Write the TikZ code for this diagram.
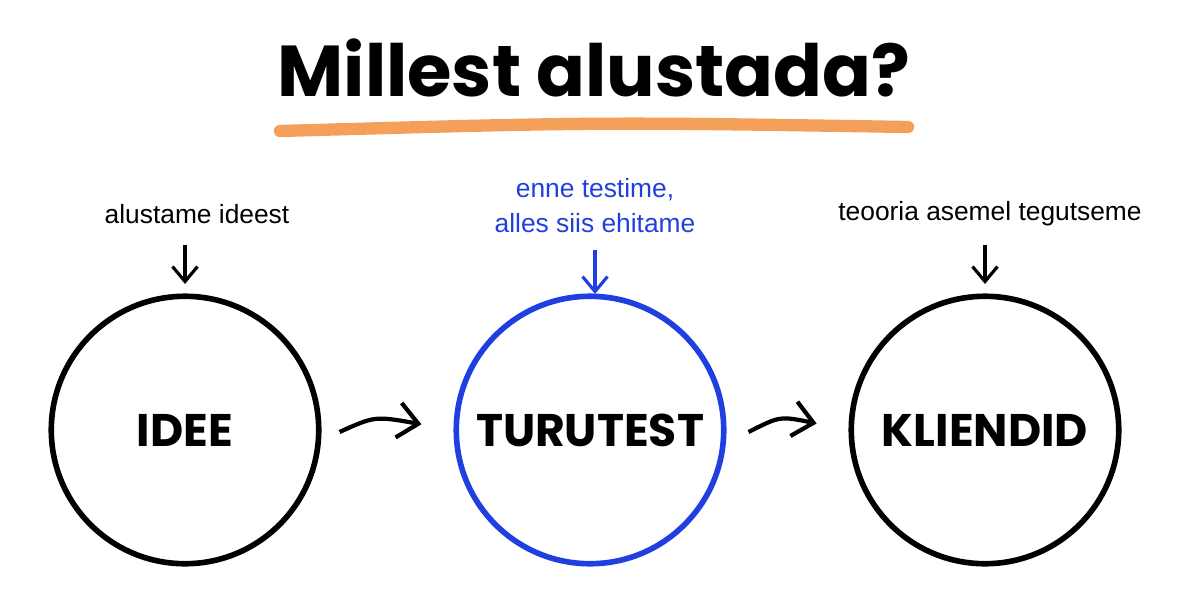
\documentclass[tikz,border=0pt]{standalone}
\usepackage{fontspec}
\setmainfont{Poppins}
\newfontfamily\handfont{Liberation Sans}
\usetikzlibrary{positioning,arrows.meta}
\definecolor{blueink}{HTML}{1F3FE0}
\definecolor{orangeline}{HTML}{F5A05A}
\tikzset{
  stage/.style={circle, draw, line width=3.2pt, minimum size=5.35cm, font=\bfseries\fontsize{26}{26}\selectfont},
  note/.style={font=\handfont\fontsize{15}{20}\selectfont, align=center},
  pointer/.style={-{Straight Barb[length=3mm,width=5mm]}, line width=1.8pt},
  flow/.style={-{Straight Barb[length=4mm,width=7mm]}, line width=2.4pt, shorten >=0.65cm}
}
\begin{document}
\begin{tikzpicture}[x=0.02cm,y=-0.02cm]
    \useasboundingbox (0,0) rectangle (1200,608);
    % Title
    \node (title) at (594,68) {\bfseries\fontsize{41}{41}\selectfont Millest alustada?};
    \draw[orangeline, line width=7pt, line cap=round] (280,131) .. controls (600,122) .. (908,127);
    % Stages
    \node[stage] (idea) at (185,430) {IDEE};
    \node[stage, draw=blueink] (test) at (590,430) {TURUTEST};
    \node[stage] (client) at (985,430) {KLIENDID};
    % Notes
    \node[note] (ideanote) at (197,214) {alustame ideest};
    \node[note, text=blueink] (testnote) at (595,206) {enne testime,\\alles siis ehitame};
    \node[note] (clientnote) at (990,214) {teooria asemel tegutseme};
    \coordinate (ideatip) at (185,284);
    \coordinate (testtip) at (595,294);
    \coordinate (clienttip) at (985,284);
    \draw[pointer] (185,245) -- (ideatip);
    \draw[pointer, blueink] (595,250) -- (testtip);
    \draw[pointer] (985,245) -- (clienttip);
    % Flow
    \draw[flow] (idea.east) ++(18,2) .. controls (375,416) .. (test.west);
    \draw[flow] (test.east) ++(22,2) .. controls (780,416) .. (client.west);
\end{tikzpicture}
\end{document}
